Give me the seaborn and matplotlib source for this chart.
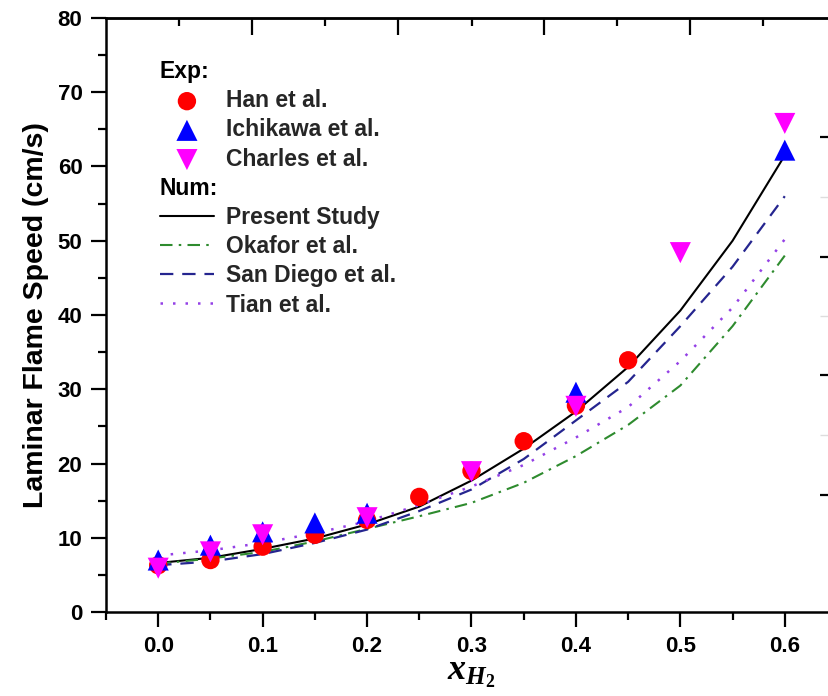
import matplotlib
matplotlib.use("Agg")
import matplotlib.pyplot as plt
from matplotlib.lines import Line2D
from matplotlib.ticker import FixedLocator, MultipleLocator
import seaborn as sns

# ---- data ----
x_han = [0.0, 0.05, 0.1, 0.15, 0.2, 0.25, 0.3, 0.35, 0.4, 0.45]
y_han = [6.3, 7.0, 8.8, 10.4, 12.4, 15.5, 19.0, 23.0, 27.8, 33.9]
x_ich = [0.0, 0.05, 0.1, 0.15, 0.2, 0.4, 0.6]
y_ich = [7.0, 9.0, 10.8, 12.0, 13.3, 29.6, 62.2]
x_cha = [0.0, 0.05, 0.1, 0.2, 0.3, 0.4, 0.5, 0.6]
y_cha = [5.9, 8.1, 10.4, 12.7, 18.9, 27.7, 48.4, 65.8]

x_num = [0.0, 0.05, 0.1, 0.15, 0.2, 0.25, 0.3, 0.35, 0.4, 0.45, 0.5, 0.55, 0.6]
y_present = [6.6, 7.3, 8.5, 9.9, 11.8, 14.2, 17.7, 22.0, 27.0, 33.0, 40.6, 50.0, 61.5]
y_okafor = [6.5, 7.2, 8.1, 9.5, 11.2, 12.9, 14.7, 17.4, 21.0, 25.2, 30.5, 38.5, 48.0]
y_sandiego = [6.3, 6.8, 7.8, 9.3, 11.1, 13.6, 16.5, 20.6, 25.8, 31.0, 38.5, 46.5, 56.0]
y_tian = [7.6, 8.3, 9.3, 10.6, 12.2, 14.4, 16.9, 19.8, 23.5, 27.6, 33.8, 41.0, 50.2]

x_ticks = [0.0, 0.1, 0.2, 0.3, 0.4, 0.5, 0.6]
y_ticks = [0, 10, 20, 30, 40, 50, 60, 70, 80]

sns.set_theme(style="ticks")
plt.rcParams["font.family"] = ["Liberation Sans", "DejaVu Sans"]
plt.rcParams["font.weight"] = "bold"
plt.rcParams["mathtext.fontset"] = "custom"
plt.rcParams["mathtext.it"] = "Liberation Serif:bold:italic"
plt.rcParams["mathtext.rm"] = "Liberation Serif:bold"

W, H = 829, 696
fig = plt.figure(figsize=(W / 100, H / 100), dpi=100)
ax = fig.add_axes([106 / W, (H - 612) / H, (837 - 106) / W, (612 - 18) / H])

# numerical lines
sns.lineplot(x=x_num, y=y_present, ax=ax, color="black", lw=1.5, label="Present Study")
sns.lineplot(x=x_num, y=y_okafor, ax=ax, color="#2E8B2E", lw=1.5,
             linestyle=(0, (6, 3, 1.2, 3)), label="Okafor et al.")
sns.lineplot(x=x_num, y=y_sandiego, ax=ax, color="#25258F", lw=1.6,
             linestyle=(0, (6, 4)), label="San Diego et al.")
sns.lineplot(x=x_num, y=y_tian, ax=ax, color="#9440E6", lw=1.8,
             linestyle=(0, (1, 4)), label="Tian et al.")

# experimental markers
sns.scatterplot(x=x_han, y=y_han, ax=ax, marker="o", s=175, color="#FF0000",
                edgecolor="none", linewidth=0, label="Han et al.", zorder=5)
sns.scatterplot(x=x_ich, y=y_ich, ax=ax, marker="^", s=230, color="#0000FF",
                edgecolor="none", linewidth=0, label="Ichikawa et al.", zorder=6)
sns.scatterplot(x=x_cha, y=y_cha, ax=ax, marker="v", s=230, color="#FF00FF",
                edgecolor="none", linewidth=0, label="Charles et al.", zorder=7)

ax.set_xlim(-0.05, 0.65)
ax.set_ylim(0, 80)
ax.set_xticks(x_ticks)
ax.set_xticklabels([f"{v:.1f}" for v in x_ticks])
ax.set_yticks(y_ticks)
ax.xaxis.set_minor_locator(MultipleLocator(0.05))
ax.yaxis.set_minor_locator(MultipleLocator(5))
ax.tick_params(axis="both", which="major", direction="out", length=11, width=1.6,
               labelsize=16, color="black", labelcolor="black")
ax.tick_params(axis="both", which="minor", direction="out", length=6, width=1.6, color="black")
ax.tick_params(axis="x", which="major", pad=6)
ax.tick_params(axis="y", which="major", pad=6)
for lab in ax.get_xticklabels() + ax.get_yticklabels():
    lab.set_fontweight("bold")

for side in ["left", "bottom", "top"]:
    ax.spines[side].set_linewidth(1.8)
    ax.spines[side].set_color("black")
ax.spines["right"].set_visible(False)

# top secondary axis ticks (inward)
sec = ax.secondary_xaxis("top")
sec.set_xticks([0.0898, 0.2296, 0.3695, 0.5093])
sec.set_xticklabels([])
sec.xaxis.set_minor_locator(FixedLocator([0.0198, 0.1597, 0.3005, 0.4394, 0.5792]))
sec.tick_params(which="major", direction="in", length=12, width=1.6, color="black")
sec.tick_params(which="minor", direction="in", length=6, width=1.6, color="black")
sec.spines["top"].set_linewidth(1.8)

# right secondary axis ticks (inward, spine off canvas)
secy = ax.secondary_yaxis("right")
secy.set_yticks([15.8, 31.9, 47.8, 64.0])
secy.set_yticklabels([])
secy.yaxis.set_minor_locator(FixedLocator([23.8, 39.9, 55.9]))
secy.tick_params(which="major", direction="in", length=12, width=1.6, color="black")
secy.tick_params(which="minor", direction="in", length=12, width=1.0, color="#dddddd")

ax.set_ylabel("Laminar Flame Speed (cm/s)", fontsize=20.5, fontweight="bold", color="black")
ax.yaxis.set_label_coords(-0.078, 0.5)
ax.set_xlabel(r"$x_{H_2}$", fontsize=26, color="black")
ax.xaxis.set_label_coords(0.5, -0.072)

# legend with blank header rows
handles, labels = ax.get_legend_handles_labels()
order = ["Han et al.", "Ichikawa et al.", "Charles et al.",
         "Present Study", "Okafor et al.", "San Diego et al.", "Tian et al."]
hmap = dict(zip(labels, handles))
blank = Line2D([], [], linestyle="none")
new_h = [blank] + [hmap[k] for k in order[:3]] + [blank] + [hmap[k] for k in order[3:]]
new_l = [" "] + order[:3] + [" "] + order[3:]
leg = ax.legend(new_h, new_l, loc="upper left",
                bbox_to_anchor=((160 - 106) / (837 - 106), 1 - (60 - 18) / 594),
                frameon=False, borderpad=0, borderaxespad=0, handlelength=2.35,
                handletextpad=0.52, labelspacing=0.27, prop={"weight": "bold", "size": 16.5},
                scatterpoints=1)

fig.canvas.draw()
texts = leg.get_texts()
inv = ax.transAxes.inverted()
for idx, name in [(0, "Exp:"), (4, "Num:")]:
    bb = texts[idx].get_window_extent()
    yc = (bb.y0 + bb.y1) / 2
    xa = (160 - 106) / (837 - 106)
    ya = inv.transform((0, yc))[1]
    ax.text(xa, ya, name, transform=ax.transAxes, ha="left", va="center",
            fontsize=16.5, fontweight="bold", color="black")

fig.savefig("out.png", dpi=100)
